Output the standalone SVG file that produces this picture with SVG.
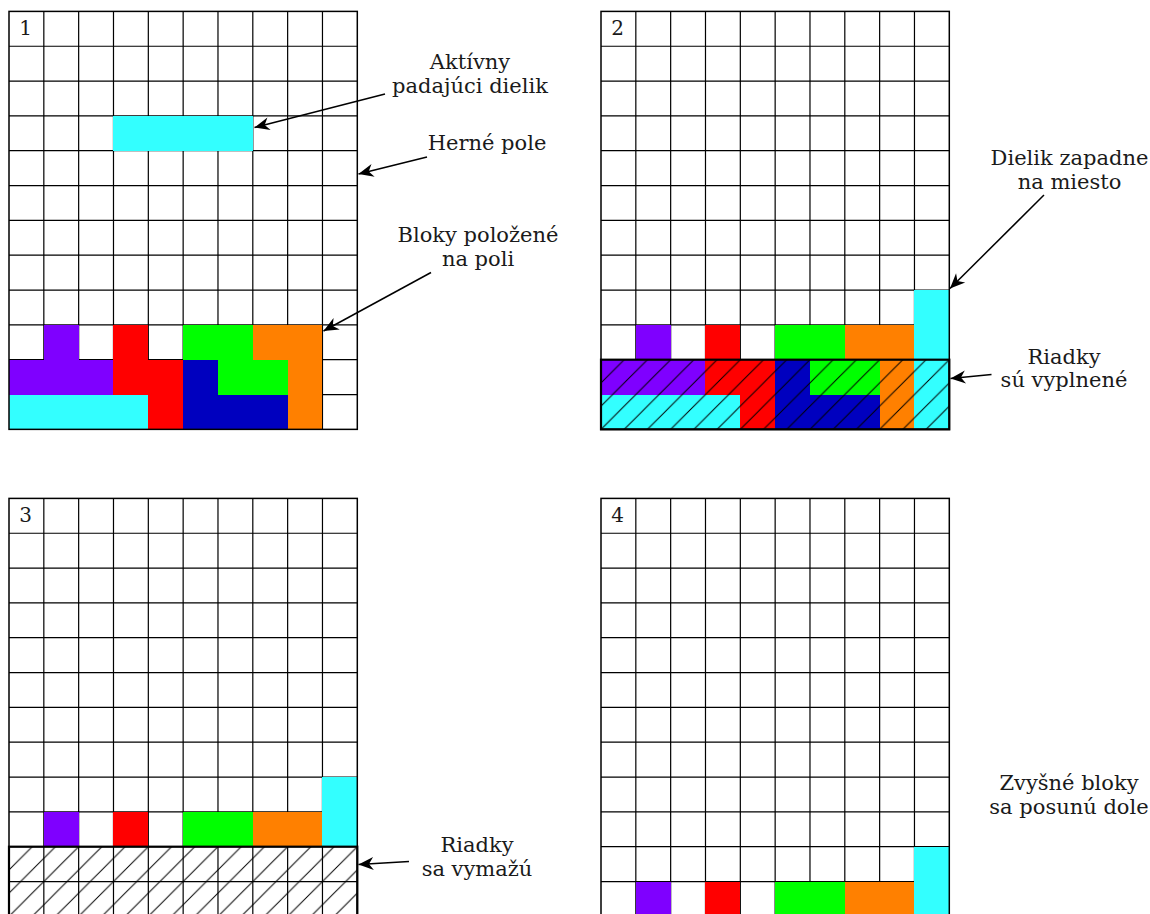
<svg xmlns="http://www.w3.org/2000/svg" xmlns:xlink="http://www.w3.org/1999/xlink" width="1150" height="914" viewBox="0 0 1150 914">
<style>
.gl{fill:none;stroke:#000;stroke-width:1.2}
.fr{fill:none;stroke:#000;stroke-width:1.5}
.tb{fill:none;stroke:#000;stroke-width:2.2}
.pc{shape-rendering:crispEdges}
.cy{fill:#33ffff}.pu{fill:#7f00ff}.rd{fill:#ff0000}.gr{fill:#00ff00}.or{fill:#ff8000}.bl{fill:#0000bf}
.lbl{font-family:'DejaVu Serif',serif;font-size:21px;fill:#1a1a1a;text-anchor:middle}
.num{font-family:'DejaVu Serif',serif;font-size:20px;fill:#1a1a1a;text-anchor:middle}
.ar{fill:none;stroke:#000;stroke-width:1.5}
</style>
<defs>
<marker id="stealth" markerUnits="userSpaceOnUse" viewBox="-16 -8 17 16" markerWidth="17" markerHeight="16" refX="0" refY="0" orient="auto">
<path d="M0,0 L-15,-6.5 L-10.5,0 L-15,6.5 Z" fill="#000"/>
</marker>
<pattern id="hatch" patternUnits="userSpaceOnUse" width="23.22" height="23.22">
<path d="M0,23.22 L23.22,0 M-2,2 L2,-2 M21.22,25.22 L25.22,21.22" stroke="#000" stroke-width="1"/>
</pattern>
<g id="gridlines">
<rect width="348.3" height="417.96" fill="#fff"/>
<path class="gl" d="M34.83,0V417.96M69.66,0V417.96M104.49,0V417.96M139.32,0V417.96M174.15,0V417.96M208.98,0V417.96M243.81,0V417.96M278.64,0V417.96M313.47,0V417.96M0,34.83H348.3M0,69.66H348.3M0,104.49H348.3M0,139.32H348.3M0,174.15H348.3M0,208.98H348.3M0,243.81H348.3M0,278.64H348.3M0,313.47H348.3M0,348.3H348.3M0,383.13H348.3"/>
</g>
<g id="stack" class="pc">
<path class="pu" d="M34.83,313.47H69.66V348.3H104.49V383.13H0V348.3H34.83Z"/>
<path class="rd" d="M104.49,313.47H139.32V348.3H174.15V417.96H139.32V383.13H104.49Z"/>
<path class="gr" d="M174.15,313.47H243.81V348.3H278.64V383.13H208.98V348.3H174.15Z"/>
<path class="bl" d="M174.15,348.3H208.98V383.13H278.64V417.96H174.15Z"/>
<path class="or" d="M243.81,313.47H313.47V417.96H278.64V348.3H243.81Z"/>
<rect class="cy" x="0" y="383.13" width="139.32" height="34.83"/>
</g>
<g id="toprow" class="pc">
<rect class="pu" x="34.83" y="0" width="34.83" height="34.83"/>
<rect class="rd" x="104.49" y="0" width="34.83" height="34.83"/>
<rect class="gr" x="174.15" y="0" width="69.66" height="34.83"/>
<rect class="or" x="243.81" y="0" width="69.66" height="34.83"/>
</g>
</defs>

<g id="field1" transform="translate(9,11.4)">
<use xlink:href="#gridlines"/>
<rect class="cy pc" x="104.49" y="104.49" width="139.32" height="34.83"/>
<use xlink:href="#stack"/>
<rect class="fr" width="348.3" height="417.96"/>
<text class="num" x="16.7" y="23.6">1</text>
</g>

<g id="field2" transform="translate(601,11.4)">
<use xlink:href="#gridlines"/>
<use xlink:href="#stack"/>
<rect class="cy pc" x="313.47" y="278.64" width="34.83" height="139.32"/>
<rect x="0" y="348.3" width="348.3" height="69.66" fill="url(#hatch)"/>
<rect class="fr" width="348.3" height="417.96"/>
<rect class="tb" x="0" y="348.3" width="348.3" height="69.66"/>
<text class="num" x="16.7" y="23.6">2</text>
</g>

<g id="field3" transform="translate(9,498.4)">
<use xlink:href="#gridlines"/>
<use xlink:href="#toprow" y="313.47"/>
<rect class="cy pc" x="313.47" y="278.64" width="34.83" height="69.66"/>
<rect x="0" y="348.3" width="348.3" height="69.66" fill="url(#hatch)"/>
<rect class="fr" width="348.3" height="417.96"/>
<rect class="tb" x="0" y="348.3" width="348.3" height="69.66"/>
<text class="num" x="16.7" y="23.6">3</text>
</g>

<g id="field4" transform="translate(601,498.4)">
<use xlink:href="#gridlines"/>
<use xlink:href="#toprow" y="383.13"/>
<rect class="cy pc" x="313.47" y="348.3" width="34.83" height="69.66"/>
<rect class="fr" width="348.3" height="417.96"/>
<text class="num" x="16.7" y="23.6">4</text>
</g>

<g id="label-aktivny"><text class="lbl" x="470" y="68.5">Aktívny</text><text class="lbl" x="470" y="93">padajúci dielik</text></g>
<g id="label-herne"><text class="lbl" x="487" y="150">Herné pole</text></g>
<g id="label-bloky"><text class="lbl" x="478" y="242">Bloky položené</text><text class="lbl" x="478" y="266">na poli</text></g>
<g id="label-dielik"><text class="lbl" x="1069.5" y="165">Dielik zapadne</text><text class="lbl" x="1069.5" y="189">na miesto</text></g>
<g id="label-vyplnene"><text class="lbl" x="1064" y="363.5">Riadky</text><text class="lbl" x="1064" y="387">sú vyplnené</text></g>
<g id="label-vymazu"><text class="lbl" x="477" y="851.5">Riadky</text><text class="lbl" x="477" y="875.5">sa vymažú</text></g>
<g id="label-zvysne"><text class="lbl" x="1069" y="789.5">Zvyšné bloky</text><text class="lbl" x="1069" y="813.5">sa posunú dole</text></g>

<g id="connectors">
<line class="ar" x1="385" y1="94" x2="254.5" y2="127.5" marker-end="url(#stealth)"/>
<line class="ar" x1="427" y1="157" x2="358.5" y2="174" marker-end="url(#stealth)"/>
<line class="ar" x1="431" y1="272.5" x2="323.5" y2="331" marker-end="url(#stealth)"/>
<line class="ar" x1="1044" y1="195" x2="950" y2="288.5" marker-end="url(#stealth)"/>
<line class="ar" x1="991.5" y1="374.5" x2="950.5" y2="378.5" marker-end="url(#stealth)"/>
<line class="ar" x1="409" y1="861.5" x2="358.5" y2="864.5" marker-end="url(#stealth)"/>
</g>
</svg>
